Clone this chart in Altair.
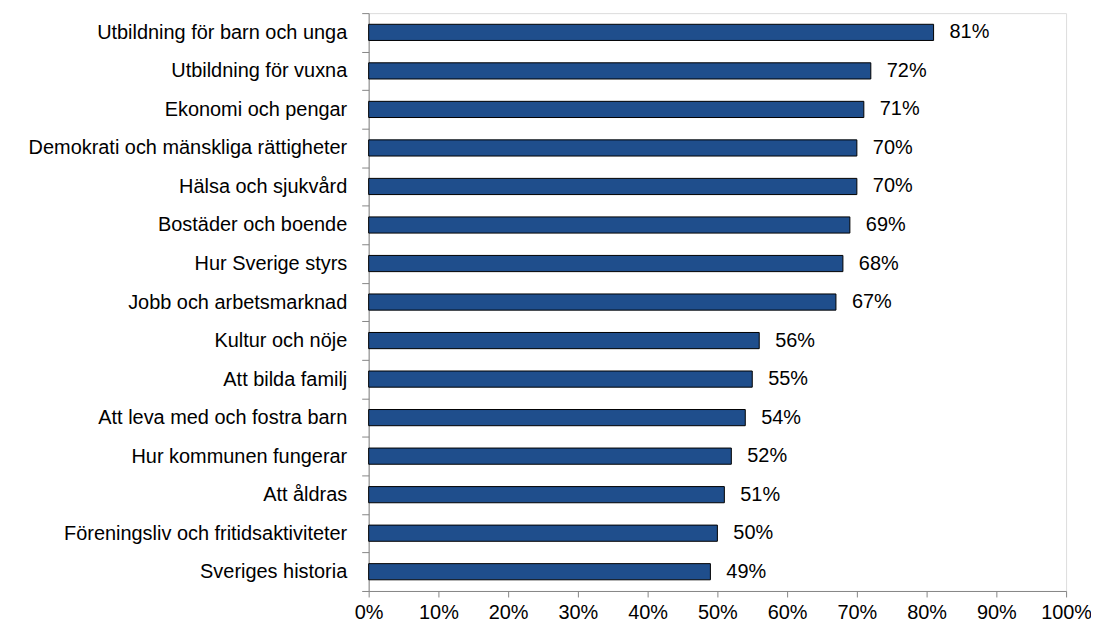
import altair as alt
import pandas as pd

categories = [
    "Utbildning för barn och unga",
    "Utbildning för vuxna",
    "Ekonomi och pengar",
    "Demokrati och mänskliga rättigheter",
    "Hälsa och sjukvård",
    "Bostäder och boende",
    "Hur Sverige styrs",
    "Jobb och arbetsmarknad",
    "Kultur och nöje",
    "Att bilda familj",
    "Att leva med och fostra barn",
    "Hur kommunen fungerar",
    "Att åldras",
    "Föreningsliv och fritidsaktiviteter",
    "Sveriges historia",
]
values = [81, 72, 71, 70, 70, 69, 68, 67, 56, 55, 54, 52, 51, 50, 49]
x_ticks = [0, 10, 20, 30, 40, 50, 60, 70, 80, 90, 100]

df = pd.DataFrame({"cat": categories, "val": [v / 100 for v in values]})

FONT = "Liberation Sans"
GRAY = "#868686"

y_enc = alt.Y(
    "cat:N",
    sort=categories,
    title=None,
    scale=alt.Scale(paddingInner=0, paddingOuter=0),
    axis=alt.Axis(
        tickBand="extent",
        tickSize=7,
        labelPadding=15,
        labelFont=FONT,
        labelFontSize=20,
        labelColor="black",
        labelLimit=500,
        domainColor=GRAY,
        tickColor=GRAY,
        domainWidth=1,
        tickWidth=1,
    ),
)

x_enc = alt.X(
    "val:Q",
    title=None,
    scale=alt.Scale(domain=[0, 1], nice=False),
    axis=alt.Axis(
        values=[t / 100 for t in x_ticks],
        format=".0%",
        grid=False,
        tickSize=6,
        labelPadding=6,
        labelFont=FONT,
        labelFontSize=20,
        labelColor="black",
        domainColor=GRAY,
        tickColor=GRAY,
        domainWidth=1,
        tickWidth=1,
        labelFlush=False,
    ),
)

bars = alt.Chart(df).mark_bar(
    height={"band": 0.42},
    color="#1F4E8C",
    stroke="black",
    strokeWidth=1,
).encode(x=x_enc, y=y_enc)

labels = alt.Chart(df).mark_text(
    align="left",
    baseline="middle",
    dx=16,
    font=FONT,
    fontSize=20,
    color="black",
).encode(
    x=alt.X("val:Q"),
    y=alt.Y("cat:N", sort=categories),
    text=alt.Text("val:Q", format=".0%"),
)

chart = (
    alt.layer(bars, labels)
    .properties(
        width=700,
        height=580,
        autosize=alt.AutoSizeParams(type="none"),
        padding={"left": 362, "top": 4, "right": 25, "bottom": 30},
    )
    .configure_view(stroke=None)
    .configure(background="white")
)

chart.save("out.html", embed_options={"renderer": "svg", "actions": False})
